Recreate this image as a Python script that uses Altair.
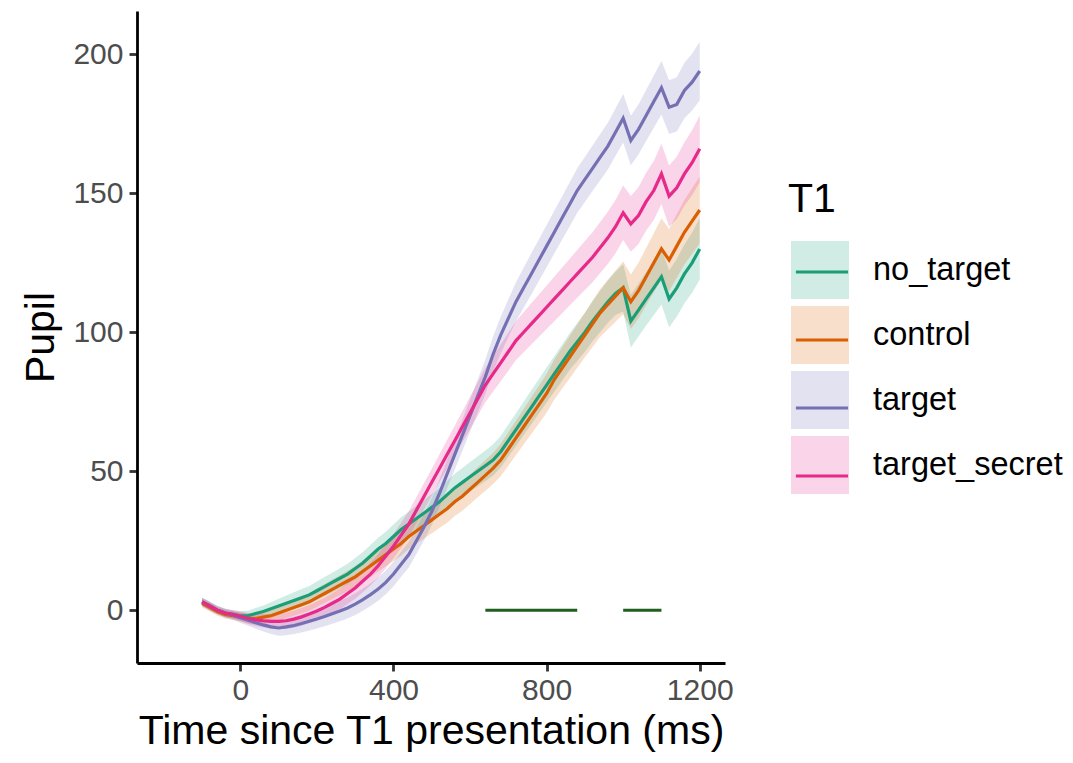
import altair as alt
import pandas as pd

FONT = "Liberation Sans, Arial, Helvetica, sans-serif"

# sampling grid (ms), 20 ms bins
time_ms = list(range(-100, 1201, 20))

conditions = ["no_target", "control", "target", "target_secret"]
colors = ["#1B9E77", "#D95F02", "#7570B3", "#E7298A"]

no_target = [3, 1.5, 0, -1, -1.5, -2, -2, -1.2, -0.5, 0.5, 1.5,
             2.5, 3.5, 4.5, 5.5, 7, 8.5, 10, 11.5, 13, 15, 17,
             19.5, 22, 24, 26.5, 29, 31, 33, 35, 37, 39, 41.5,
             44, 46, 48, 50, 52, 54, 57, 61, 65, 69, 73,
             77, 81, 85, 89, 93, 96.5, 100, 104, 107.5, 111, 114,
             116, 104, 108, 112, 116, 120, 112, 116, 121, 125, 130]
control = [2.5, 1, -0.5, -1.5, -2, -2.5, -3, -3, -2.5, -2, -1,
           0, 1, 2, 3, 4.5, 6, 7.5, 9, 10.5, 12, 14,
           16, 18, 20, 22, 24, 26.5, 28.5, 30.5, 32.5, 34.5, 36.5,
           39, 41, 43.5, 46, 48.5, 51, 54, 58, 62, 66, 70,
           74, 78, 83, 87, 91, 95, 99, 103, 107, 110, 113,
           116, 111, 115, 120, 125, 130, 126, 131, 136, 140, 144]
target = [3, 1.5, 0, -1, -1.8, -2.7, -3.6, -4.5, -5.3, -6, -6.4,
          -6, -5.5, -4.8, -4, -3.2, -2.3, -1.3, -0.3, 0.8, 2.2, 3.8,
          5.6, 7.6, 10, 13, 16.5, 20, 25, 30, 35.5, 42, 49,
          56, 63, 70, 77, 84, 92, 99, 105, 111, 116, 121,
          126, 131, 136, 141, 146, 151, 155, 159, 163, 167, 172,
          177, 169, 173, 178, 183, 188, 181, 182, 187, 190, 194]
target_secret = [3, 1.5, 0, -1, -1.5, -2.2, -3, -3.5, -3.8, -4, -4,
                 -3.8, -3.2, -2.4, -1.4, -0.3, 1, 2.5, 4, 6, 8, 10.5,
                 13, 16, 19.5, 23, 27, 31, 36, 41, 46, 51, 56,
                 61, 66, 71, 76, 81, 85, 89, 93, 97, 100, 103,
                 106, 109, 112, 115, 118, 121, 124, 127, 130.5, 134, 138,
                 143, 139, 142, 147, 151, 157, 149, 152, 157, 161, 166]

se_no_target = [1.5, 1.5, 1.5, 1.5, 1.5, 1.6, 1.8, 2.0, 2.2, 2.4, 2.6,
                2.8, 3.0, 3.1, 3.2, 3.3, 3.4, 3.5, 3.6, 3.7, 3.8, 3.9,
                4.0, 4.1, 4.2, 4.3, 4.4, 4.5, 4.6, 4.7, 4.8, 4.9, 5.0,
                5.1, 5.2, 5.3, 5.4, 5.5, 5.6, 5.7, 5.8, 5.9, 6.0, 6.1,
                6.2, 6.3, 6.4, 6.5, 6.6, 6.8, 7.0, 7.2, 7.4, 7.6, 7.8,
                8.5, 9.5, 9.5, 9.6, 9.8, 10.0, 10.2, 10.4, 10.6, 10.8, 11.0]
se_control = [1.5, 1.5, 1.5, 1.5, 1.5, 1.6, 1.8, 2.0, 2.2, 2.4, 2.6,
              2.8, 3.0, 3.1, 3.2, 3.3, 3.4, 3.5, 3.6, 3.7, 3.8, 3.9,
              4.0, 4.1, 4.2, 4.3, 4.4, 4.5, 4.6, 4.7, 4.8, 4.9, 5.0,
              5.1, 5.2, 5.3, 5.4, 5.5, 5.6, 5.8, 6.0, 6.2, 6.4, 6.6,
              6.8, 7.0, 7.2, 7.4, 7.6, 7.8, 8.0, 8.3, 8.6, 8.9, 9.2,
              9.5, 9.8, 10.0, 10.3, 10.6, 11.0, 11.2, 11.4, 11.6, 11.8, 12.0]
se_target = [1.5, 1.5, 1.5, 1.5, 1.6, 1.8, 2.0, 2.2, 2.4, 2.6, 2.8,
             3.0, 3.1, 3.2, 3.3, 3.4, 3.5, 3.6, 3.7, 3.8, 3.9, 4.0,
             4.1, 4.2, 4.3, 4.4, 4.5, 4.6, 4.7, 4.8, 4.9, 5.0, 5.2,
             5.4, 5.6, 5.8, 6.0, 6.2, 6.4, 6.6, 6.8, 7.0, 7.2, 7.4,
             7.5, 7.6, 7.7, 7.8, 7.9, 8.0, 8.1, 8.2, 8.3, 8.4, 8.5,
             8.7, 8.9, 9.0, 9.2, 9.4, 9.6, 9.7, 9.8, 10.0, 10.2, 10.5]
se_target_secret = [1.5, 1.5, 1.5, 1.5, 1.6, 1.8, 2.0, 2.2, 2.4, 2.6, 2.8,
                    3.0, 3.1, 3.2, 3.3, 3.4, 3.5, 3.6, 3.7, 3.8, 3.9, 4.0,
                    4.1, 4.2, 4.3, 4.4, 4.5, 4.6, 4.7, 4.8, 4.9, 5.0, 5.2,
                    5.4, 5.6, 5.8, 6.0, 6.2, 6.4, 6.6, 6.8, 7.0, 7.2, 7.4,
                    7.6, 7.8, 8.0, 8.2, 8.4, 8.6, 8.8, 9.0, 9.2, 9.4, 9.6,
                    9.8, 10.0, 10.2, 10.4, 10.6, 10.8, 11.0, 11.2, 11.4, 11.7, 12.0]

sig_start = [640, 1000]
sig_end = [880, 1100]
sig_level = [0, 0]

x_ticks = [0, 400, 800, 1200]
y_ticks = [0, 50, 100, 150, 200]

rows = []
for cond, vals, ses in zip(conditions,
                           [no_target, control, target, target_secret],
                           [se_no_target, se_control, se_target, se_target_secret]):
    for t, v, s in zip(time_ms, vals, ses):
        rows.append({"time": t, "pupil": v, "lo": v - s, "hi": v + s,
                     "T1": cond, "T1_band": cond})
df = pd.DataFrame(rows)
sig_df = pd.DataFrame({"start": sig_start, "end": sig_end, "y": sig_level})

xs = alt.Scale(domain=[-270, 1266], nice=False, zero=False)
ys = alt.Scale(domain=[-19, 215.6], nice=False, zero=False)
x_axis = alt.Axis(values=x_ticks, format="d", labelPadding=4, titlePadding=6, labelFlush=False)
y_axis = alt.Axis(values=y_ticks, format="d", labelPadding=6, titlePadding=10, labelFlush=False)
x_title = "Time since T1 presentation (ms)"

legend_common = dict(orient="none", legendX=651, legendY=169,
                     titleFontSize=41, titleFont=FONT, titleColor="black",
                     titleFontWeight="normal", titlePadding=20,
                     labelFontSize=32.5, labelFont=FONT, labelColor="black",
                     labelOffset=24, labelLimit=0, symbolSize=3364, symbolOffset=3,
                     rowPadding=7, padding=0)

band = alt.Chart(df).mark_area(opacity=0.2).encode(
    x=alt.X("time:Q", scale=xs, axis=x_axis, title=x_title),
    y=alt.Y("lo:Q", scale=ys, axis=y_axis, title="Pupil"),
    y2="hi:Q",
    fill=alt.Fill("T1_band:N", scale=alt.Scale(domain=conditions, range=colors),
                  legend=alt.Legend(title="T1", symbolType="square", symbolOpacity=0.2,
                                    symbolStrokeWidth=0, **legend_common)),
)

lines = alt.Chart(df).mark_line(strokeWidth=3.2).encode(
    x=alt.X("time:Q", scale=xs, title=x_title),
    y=alt.Y("pupil:Q", scale=ys, title="Pupil"),
    stroke=alt.Stroke("T1:N", sort=conditions, scale=alt.Scale(range=colors),
                      legend=alt.Legend(title=" ", labelExpr="''",
                                        symbolType="M-0.9,0H0.9M0,-0.78M0,0.78",
                                        symbolStrokeWidth=3.2, symbolOpacity=1,
                                        symbolFillColor="transparent",
                                        **legend_common)),
)

sig = alt.Chart(sig_df).mark_rule(color="#1f5f1f", strokeWidth=3).encode(
    x=alt.X("start:Q", scale=xs, title=x_title),
    x2="end:Q",
    y=alt.Y("y:Q", scale=ys, title="Pupil"),
)

chart = alt.layer(band, lines, sig).properties(
    width=588, height=652,
    padding={"left": 129, "top": 3, "right": 340, "bottom": 91},
    autosize=alt.AutoSizeParams(type="none"),
).configure_view(stroke=None).configure_axis(
    grid=False, domainColor="black", domainWidth=2.8,
    tickColor="#333333", tickWidth=2.8, tickSize=8,
    labelColor="#4D4D4D", labelFontSize=30, labelFont=FONT,
    titleFontSize=41, titleFont=FONT, titleColor="black", titleFontWeight="normal",
)

chart.save("out.html", embed_options={"renderer": "svg", "actions": False})
